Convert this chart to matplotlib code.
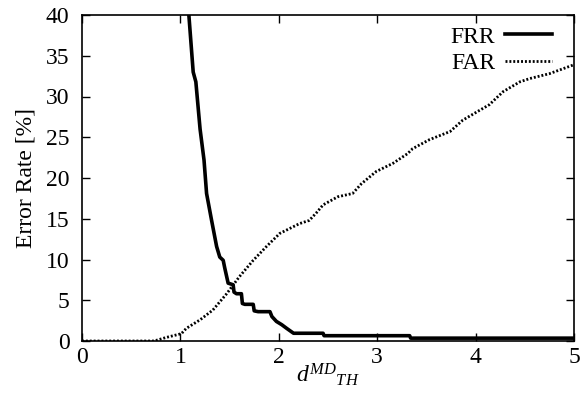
import numpy as np
import matplotlib
matplotlib.use('Agg')
import matplotlib.pyplot as plt

plt.rcParams['font.family'] = 'Liberation Serif'
plt.rcParams['mathtext.fontset'] = 'custom'
plt.rcParams['mathtext.rm'] = 'Liberation Serif'
plt.rcParams['mathtext.it'] = 'Liberation Serif:italic'

# FRR: step-like decreasing curve
frr_x = [1.086, 1.13, 1.157, 1.20, 1.24, 1.266, 1.317, 1.368, 1.40, 1.435, 1.45, 1.485,
         1.536, 1.545, 1.57, 1.62, 1.63, 1.655, 1.74, 1.75, 1.79, 1.91, 1.93, 1.976, 2.03,
         2.08, 2.15, 2.45, 2.46, 3.33, 3.34, 5.0]
frr_y = [40.0, 33.0, 31.8, 26.0, 22.2, 18.1, 14.8, 11.6, 10.3, 9.9, 9.0, 7.1,
         6.9, 6.0, 5.8, 5.8, 4.6, 4.5, 4.5, 3.7, 3.6, 3.6, 3.0, 2.4, 2.0,
         1.55, 0.95, 0.95, 0.65, 0.65, 0.35, 0.35]

# FAR: dotted increasing curve
far_x = [0.0, 0.72, 0.76, 0.86, 1.01, 1.06, 1.2, 1.33, 1.47, 1.6, 1.74, 1.875, 2.01, 2.11,
         2.21, 2.31, 2.38, 2.45, 2.6, 2.75, 2.84, 2.99, 3.16, 3.31, 3.36, 3.53, 3.74, 3.87,
         4.04, 4.14, 4.28, 4.45, 4.55, 4.75, 5.0]
far_y = [0.0, 0.0, 0.1, 0.45, 0.9, 1.55, 2.6, 3.8, 5.8, 7.9, 9.9, 11.6, 13.2, 13.8,
         14.4, 14.8, 15.7, 16.7, 17.7, 18.1, 19.3, 20.8, 21.8, 23.0, 23.6, 24.7, 25.7, 27.1,
         28.3, 29.0, 30.6, 31.8, 32.2, 32.8, 33.9]

fig, ax = plt.subplots(1, 1, figsize=(5.87, 3.97), dpi=100)
fig.subplots_adjust(left=82/587, right=574/587, top=1-15/397, bottom=1-341/397)

ax.plot(frr_x, frr_y, color='k', ls='-', linewidth=2.6, label='FRR')
ax.plot(far_x, far_y, color='k', ls=(0, (0.7, 0.7)), linewidth=2.0, label='FAR')

ax.axis([0, 5, 0, 40])
ax.set_xticks(np.arange(0, 6, 1))
ax.set_yticks(np.arange(0, 41, 5))
ax.tick_params('both', which='both', direction='in', labelsize=17, top=True, right=True,
               length=6, width=1.0)
ax.tick_params('x', pad=4)
ax.tick_params('y', pad=9)
for sp in ax.spines.values():
    sp.set_linewidth(1.2)

ax.set_ylabel('Error Rate [%]', fontsize=17, labelpad=7)
ax.set_xlabel(r'$d^{MD}{}_{TH}$', fontsize=17, labelpad=-4)

ax.legend(loc='upper right', bbox_to_anchor=(0.974, 0.995), fontsize=17, frameon=False,
          markerfirst=False, handlelength=2.0, handletextpad=0.4, labelspacing=0.2,
          borderaxespad=0.1, borderpad=0.3)

fig.savefig('out.png', dpi=100)
